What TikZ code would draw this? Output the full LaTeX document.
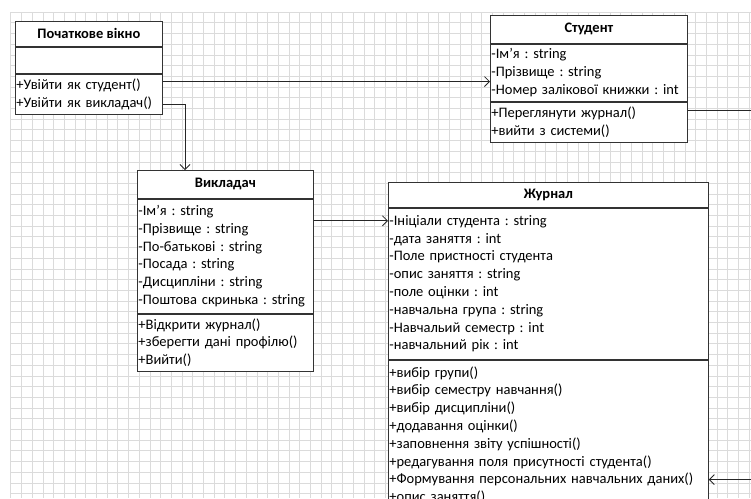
\documentclass[tikz,border=0pt]{standalone}
\usepackage{fontspec}
\setmainfont{Carlito}
\usetikzlibrary{arrows.meta}
\frenchspacing

\newcommand{\ap}{\char"27\relax}

\tikzset{
  gridline/.style={draw=black!14, line width=0.5pt},
  clshead/.style={draw=black!80, fill=white, line width=0.8pt, anchor=north west,
    inner sep=0pt, font=\fontsize{14.5}{17.8}\selectfont\bfseries},
  clsbox/.style={draw=black!80, fill=white, line width=0.8pt, anchor=north west,
    align=left, inner xsep=1pt, inner ysep=0pt, font=\fontsize{14.5}{17.8}\selectfont},
  link/.style={->, draw=black!85, line width=0.8pt}
}

\begin{document}
\begin{tikzpicture}[
    x=1pt,
    y=-1pt,
    >={Straight Barb[length=5pt, width=10pt]}
]
\useasboundingbox (0,0) rectangle (751,498);
\clip (0,0) rectangle (751,498);

% сітка
\foreach \i in {0,...,69}
  \draw[gridline] ({10.7+10.7*\i},12) -- ({10.7+10.7*\i},498);
\foreach \j in {0,...,45}
  \draw[gridline] (10.7,{12+10.7*\j}) -- (751,{12+10.7*\j});

% Початкове вікно
\node[clshead, minimum width=147, minimum height=25] (pvhead) at (15,21) {Початкове вікно};
\node[clsbox, text width=145, minimum height=26] (pvattr) at (pvhead.south west) {};
\node[clsbox, text width=145, minimum height=40] (pvops) at (pvattr.south west)
  {+Увійти як студент()\\+Увійти як викладач()};

% Студент
\node[clshead, minimum width=197, minimum height=28] (sthead) at (490,15) {Студент};
\node[clsbox, text width=195, minimum height=57] (stattr) at (sthead.south west)
  {-Ім\ap я : string\\-Прізвище : string\\-Номер залікової книжки : int};
\node[clsbox, text width=195, minimum height=40] (stops) at (stattr.south west)
  {+Переглянути журнал()\\+вийти з системи()};

% Викладач
\node[clshead, minimum width=176, minimum height=28] (vkhead) at (137,170) {Викладач};
\node[clsbox, text width=174, minimum height=114] (vkattr) at (vkhead.south west)
  {-Ім\ap я : string\\-Прізвище : string\\-По-батькові : string\\-Посада : string\\-Дисципліни : string\\-Поштова скринька : string};
\node[clsbox, text width=174, minimum height=57] (vkops) at (vkattr.south west)
  {+Відкрити журнал()\\+зберегти дані профілю()\\+Вийти()};

% Журнал
\node[clshead, minimum width=320, minimum height=25] (zhhead) at (388,182) {Журнал};
\node[clsbox, text width=318, minimum height=151] (zhattr) at (zhhead.south west)
  {-Ініціали студента : string\\-дата заняття : int\\-Поле пристності студента\\-опис заняття : string\\-поле оцінки : int\\-навчальна група : string\\-Навчальий семестр : int\\-навчальний рік : int};
\node[clsbox, text width=318, minimum height=150] (zhops) at (zhattr.south west)
  {+вибір групи()\\+вибір семестру навчання()\\+вибір дисципліни()\\+додавання оцінки()\\+заповнення звіту успішності()\\+редагування поля присутності студента()\\+Формування персональних навчальних даних()\\+опис заняття()};

% точки приєднання
\coordinate (v1) at ([yshift=-8pt]pvops.north east);
\coordinate (v2) at ([yshift=-31pt]pvops.north east);
\coordinate (v3) at ([yshift=-22pt]vkattr.north east);
\coordinate (v4) at ([yshift=-9pt]stops.north east);
\coordinate (v5) at ([yshift=-120pt]zhops.north east);

% зв'язки
\draw[link] (v1) -- (v1 -| stattr.west);
\draw[link] (v2) -| ([xshift=48pt]vkhead.north west);
\draw[link] (v3) -- (v3 -| zhattr.west);
\draw[link] (v4) -| ([xshift=70pt]v5) -- (v5);

\end{tikzpicture}
\end{document}
